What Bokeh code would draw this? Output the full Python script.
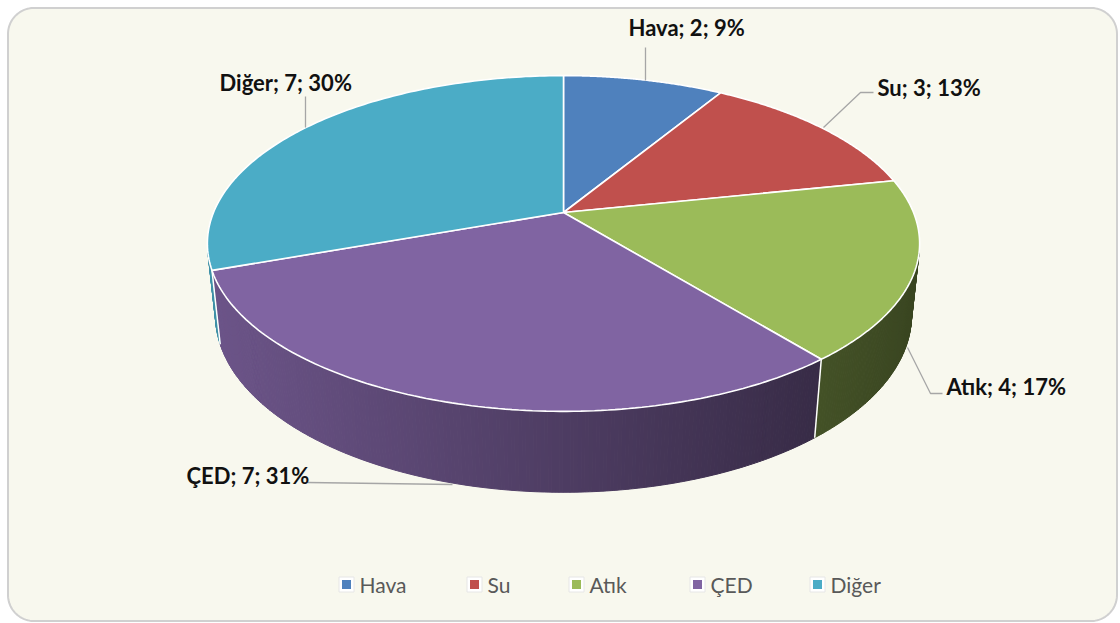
import numpy as np
from bokeh.plotting import figure
from bokeh.models import Range1d, ColumnDataSource
from bokeh.core.properties import value
from bokeh.embed import file_html
from bokeh.resources import INLINE

# ---------------- data ----------------
categories = ["Hava", "Su", "Atık", "ÇED", "Diğer"]
values = [2, 3, 4, 7, 7]
percent_labels = ["9%", "13%", "17%", "31%", "30%"]
colors = ["#4F81BD", "#C0504D", "#9BBB59", "#8064A2", "#4BACC6"]

# ---------------- layout / styles ----------------
W, H_PX = 1120, 623
OFF = 0
CX, CY = 563.0, 212.0
PHI = np.radians(27.6)
DIST = 4.80
FOC = 1680.0
DEPTH = 0.233
cphi, sphi = np.cos(PHI), np.sin(PHI)

label_pos = [(628, 27), (877, 87), (946, 386), (186, 475), (219, 82)]
leaders = [
    ([645, 645], [47, 80]),
    ([873, 860, 823], [92, 92, 127]),
    ([942, 930, 907], [393, 393, 347]),
    ([307, 452], [482, 484]),
    ([305, 305], [96, 127]),
]
legend_x = [346, 474, 576, 697, 817]
legend_y = 584

FONT = "Lato"


def proj(theta_deg, z=0.0):
    th = np.radians(np.asarray(theta_deg, dtype=float))
    X = np.sin(th)
    Y = np.cos(th)
    depth = DIST + Y * cphi - z * sphi
    w = Y * sphi + z * cphi
    return CX + FOC * X / depth, CY - FOC * w / depth


def shade(hexcol, f):
    r = int(hexcol[1:3], 16); g = int(hexcol[3:5], 16); b = int(hexcol[5:7], 16)
    return "#%02x%02x%02x" % (int(r * f), int(g * f), int(b * f))


def light(x):
    t = (x - 207.0) / 712.0
    return float(np.clip(0.85 - 0.48 * t, 0.3, 0.9))


p = figure(width=W, height=H_PX, output_backend="svg", toolbar_location=None,
           x_range=Range1d(OFF, OFF + W), y_range=Range1d(OFF + H_PX, OFF),
           min_border=0)
p.axis.visible = False
p.grid.visible = False
p.outline_line_color = None
p.background_fill_color = "white"
p.border_fill_color = "white"

# rounded frame
x0, x1, y0, y1, rad = 7.5, 1116.5, 7.5, 620.5, 26
fx, fy = [], []
for (ccx, ccy, a0) in [(x1 - rad, y0 + rad, 270), (x1 - rad, y1 - rad, 0),
                       (x0 + rad, y1 - rad, 90), (x0 + rad, y0 + rad, 180)]:
    a = np.radians(np.linspace(a0, a0 + 90, 20))
    fx += list(ccx + rad * np.cos(a)); fy += list(ccy + rad * np.sin(a))
p.patch(fx, fy, fill_color="#F8F8EE", line_color="#D0D0D0", line_width=2)

# slice angles
total = float(sum(values))
cum = np.concatenate([[0.0], np.cumsum(values)]) / total * 360.0

# side faces (front-visible part)
th_lo = np.degrees(np.arccos(-1.0 / (DIST * cphi)))
th_hi = 360.0 - th_lo
edges = np.arange(th_lo, th_hi, 0.5)
edges = np.append(edges, th_hi)
sx, sy, sc = [], [], []
for t0, t1 in zip(edges[:-1], edges[1:]):
    tm = 0.5 * (t0 + t1)
    idx = int(np.searchsorted(cum, tm, side="right") - 1)
    idx = min(max(idx, 0), len(values) - 1)
    tx0, ty0 = proj([t0, t1], 0.0)
    bx0, by0 = proj([t1, t0], -DEPTH)
    xs_ = list(tx0) + list(bx0)
    ys_ = list(ty0) + list(by0)
    sx.append(xs_); sy.append(ys_)
    sc.append(shade(colors[idx], light(np.mean(xs_))))
side_src = ColumnDataSource(dict(xs=sx, ys=sy, c=sc))
p.patches("xs", "ys", source=side_src, fill_color="c", line_color="c", line_width=1)

# white edges on side at slice boundaries
for a in cum[1:-1]:
    if th_lo < a < th_hi:
        tx, ty = proj([a], 0.0)
        bx, by = proj([a], -DEPTH)
        p.line([tx[0], bx[0]], [ty[0], by[0]], line_color="white", line_width=1.5)

# top faces
txs, tys = [], []
for i in range(len(values)):
    th = np.linspace(cum[i], cum[i + 1], 120)
    rx, ry = proj(th, 0.0)
    txs.append([CX] + list(rx)); tys.append([CY] + list(ry))
top_src = ColumnDataSource(dict(xs=txs, ys=tys, c=colors))
p.patches("xs", "ys", source=top_src, fill_color="c", line_color="white", line_width=1.6)

# leader lines
for lx, ly in leaders:
    p.line(lx, ly, line_color="#A6A6A6", line_width=1.3)

# data labels
labels = ["%s; %s; %s" % (c, v, pc) for c, v, pc in zip(categories, values, percent_labels)]
lab_src = ColumnDataSource(dict(x=[q[0] for q in label_pos], y=[q[1] for q in label_pos], t=labels))
p.text("x", "y", text="t", source=lab_src, text_font=value(FONT), text_font_style="bold",
       text_font_size="22px", text_color="#111111", text_align="left", text_baseline="middle")

# legend
p.scatter(legend_x, [legend_y] * 5, marker="square", size=15, fill_color="white",
          line_color="#E6E6E6", line_width=1)
p.scatter(legend_x, [legend_y] * 5, marker="square", size=9, fill_color=colors, line_color=None)
leg_src = ColumnDataSource(dict(x=[v + 13 for v in legend_x], y=[legend_y] * 5, t=categories))
p.text("x", "y", text="t", source=leg_src, text_font=value(FONT), text_font_size="21px",
       text_color="#595959", text_align="left", text_baseline="middle")

open("out.html", "w").write(file_html(p, INLINE))
